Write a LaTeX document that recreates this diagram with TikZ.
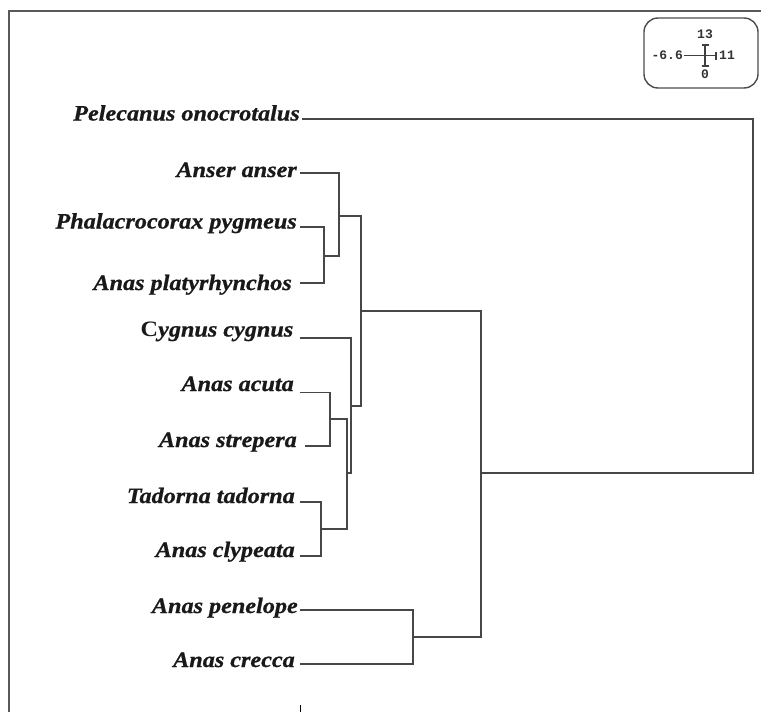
\documentclass[tikz,border=0pt]{standalone}
\usepackage{fontspec}
\setmainfont{Liberation Serif}[FakeStretch=1.1, BoldItalicFeatures={FakeBold=0.8}]
\newfontfamily\scalefont{Liberation Mono}

\begin{document}
\begin{tikzpicture}[x=1pt,y=-1pt,
		taxon/.style={anchor=base east, inner sep=0pt, text=black!90,
			font=\fontsize{22}{22}\selectfont\bfseries\itshape},
		branch/.style={draw=black!72, line width=1.8pt},
		scalelbl/.style={inner sep=0pt, text=black!80,
			font=\scalefont\fontsize{13}{13}\selectfont\bfseries}]
	\useasboundingbox (0,0) rectangle (761,712);
	% frame
	\draw[black!65, line width=2.2pt] (9,712) -- (9,11) -- (761,11);
	\draw[black, line width=0.9pt] (300,705) -- (300,712);

	% scale box
	\draw[black!70, line width=1.4pt, rounded corners=14pt] (644,18) rectangle (758,88);
	\node[scalelbl] (stop) at (705,34) {13};
	\node[scalelbl, anchor=east] (sleft) at (683,55.7) {-6.6};
	\node[scalelbl, anchor=west] (sright) at (719,55.7) {11};
	\node[scalelbl] (sbot) at (705,74) {0};
	\draw[black!75, line width=1.2pt] (705,45) -- (705,66)
		(701.5,45) -- (708.5,45) (701.5,66) -- (708.5,66)
		(684,55.7) -- (716,55.7) (716,52) -- (716,59.5);

	% leaves
	\node[taxon] (pel) at (300,120.5) {Pelecanus onocrotalus};
	\node[taxon] (ans) at (297,177) {Anser anser};
	\node[taxon] (pha) at (297,228.5) {Phalacrocorax pygmeus};
	\node[taxon] (pla) at (292,290) {Anas platyrhynchos};
	\node[taxon] (cyg) at (293.5,336.5) {{\upshape C}ygnus cygnus};
	\node[taxon] (acu) at (294,391) {Anas acuta};
	\node[taxon] (str) at (297,447) {Anas strepera};
	\node[taxon] (tad) at (295,503) {Tadorna tadorna};
	\node[taxon] (cly) at (295,557) {Anas clypeata};
	\node[taxon] (pen) at (298,613) {Anas penelope};
	\node[taxon] (cre) at (295,667) {Anas crecca};

	\coordinate (pel-t) at (302,119.3);
	\coordinate (ans-t) at (300,173.3);
	\coordinate (pha-t) at (300,227.3);
	\coordinate (pla-t) at (300,283.3);
	\coordinate (cyg-t) at (300,337.7);
	\coordinate (acu-t) at (300,392.5);
	\coordinate (str-t) at (305,446);
	\coordinate (tad-t) at (300,502);
	\coordinate (cly-t) at (300,555.7);
	\coordinate (pen-t) at (300,610);
	\coordinate (cre-t) at (300,664.3);

	% joins
	\coordinate (k1) at (324,255.7);
	\coordinate (k2) at (339.3,215.7);
	\coordinate (k3) at (360.7,310.7);
	\coordinate (k4) at (330,419.3);
	\coordinate (k5) at (321,528.7);
	\coordinate (k6) at (347.3,473);
	\coordinate (k7) at (351,406);
	\coordinate (k8) at (413.3,637);
	\coordinate (k9) at (480.7,473.3);
	\coordinate (k10) at (752.7,473.3);

	\draw[branch] (pha-t) -| (k1) |- (pla-t);
	\draw[branch] (ans-t) -| (k2) |- (k1);
	\draw[branch] (acu-t) -| (k4) |- (str-t);
	\draw[branch] (tad-t) -| (k5) |- (cly-t);
	\draw[branch] (k4) -| (k6) |- (k5);
	\draw[branch] (cyg-t) -| (k7) |- (k6);
	\draw[branch] (k2) -| (k3) |- (k7);
	\draw[branch] (pen-t) -| (k8) |- (cre-t);
	\draw[branch] (k3) -| (k9) |- (k8);
	\draw[branch] (pel-t) -| (k10) -- (k9);
\end{tikzpicture}
\end{document}
